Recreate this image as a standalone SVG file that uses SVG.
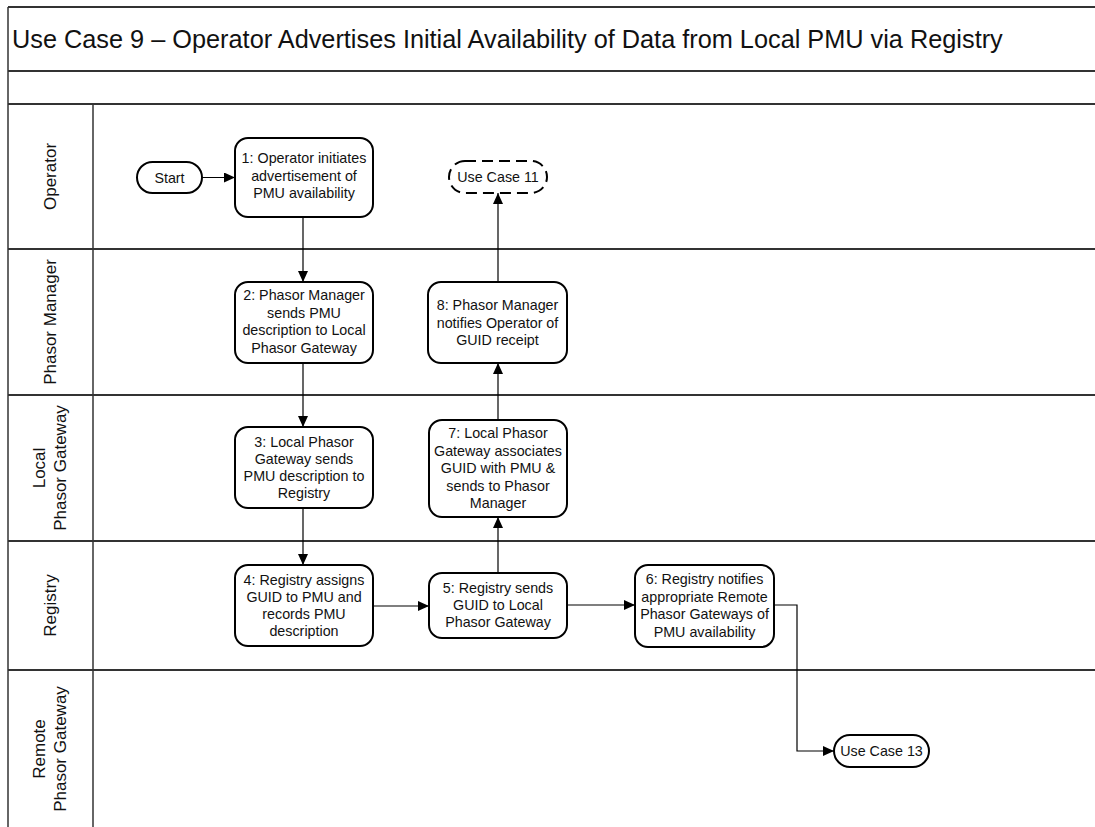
<svg xmlns="http://www.w3.org/2000/svg" width="1095" height="827" viewBox="0 0 1095 827">
  <style>
    .frame { stroke: #333; stroke-width: 2; fill: none; }
    .vline { stroke: #333; stroke-width: 1.5; fill: none; }
    .title { font-family: "Liberation Sans", Arial, sans-serif; font-size: 25.3px; fill: #111; }
    .lane { font-family: "Liberation Sans", Arial, sans-serif; font-size: 17px; fill: #111; text-anchor: middle; }
    .box { fill: #fff; stroke: #000; stroke-width: 2; }
    .dashed { fill: #fff; stroke: #000; stroke-width: 2; stroke-dasharray: 11 6; }
    .t { font-family: "Liberation Sans", Arial, sans-serif; font-size: 14.3px; fill: #111; text-anchor: middle; }
    .conn { stroke: #000; stroke-width: 1.2; fill: none; marker-end: url(#arrow); }
  </style>
  <defs>
    <marker id="arrow" markerUnits="userSpaceOnUse" markerWidth="12" markerHeight="10" refX="11" refY="5" orient="auto">
      <path d="M0,0 L11,5 L0,10 Z" fill="#000"/>
    </marker>
  </defs>
  <rect width="1095" height="827" fill="#fff"/>

  <g id="pool">
    <line class="frame" x1="8" y1="7" x2="1095" y2="7"/>
    <line class="vline" x1="8" y1="7" x2="8" y2="827"/>
    <line class="frame" x1="8" y1="71" x2="1095" y2="71"/>
    <line class="frame" x1="8" y1="104" x2="1095" y2="104"/>
    <line class="vline" x1="93" y1="104" x2="93" y2="827"/>
    <line class="frame" x1="8" y1="249" x2="1095" y2="249"/>
    <line class="frame" x1="8" y1="395" x2="1095" y2="395"/>
    <line class="frame" x1="8" y1="541" x2="1095" y2="541"/>
    <line class="frame" x1="8" y1="670" x2="1095" y2="670"/>
    <text class="title" x="12" y="48">Use Case 9 – Operator Advertises Initial Availability of Data from Local PMU via Registry</text>
  </g>

  <g id="lane-labels">
    <text class="lane" transform="translate(56,176.5) rotate(-90)">Operator</text>
    <text class="lane" transform="translate(56,322) rotate(-90)">Phasor Manager</text>
    <text class="lane" transform="translate(45,468) rotate(-90)">Local</text>
    <text class="lane" transform="translate(66,468) rotate(-90)">Phasor Gateway</text>
    <text class="lane" transform="translate(56,605.5) rotate(-90)">Registry</text>
    <text class="lane" transform="translate(45,749) rotate(-90)">Remote</text>
    <text class="lane" transform="translate(66,749) rotate(-90)">Phasor Gateway</text>
  </g>

  <g id="connectors">
    <line class="conn" x1="202" y1="177.5" x2="235" y2="177.5"/>
    <line class="conn" x1="303" y1="217" x2="303" y2="282"/>
    <line class="conn" x1="303" y1="363" x2="303" y2="427"/>
    <line class="conn" x1="303" y1="508" x2="303" y2="565"/>
    <line class="conn" x1="373" y1="606" x2="429" y2="606"/>
    <line class="conn" x1="498" y1="573" x2="498" y2="517"/>
    <line class="conn" x1="498" y1="420" x2="498" y2="363"/>
    <line class="conn" x1="498" y1="282" x2="498" y2="193"/>
    <line class="conn" x1="567" y1="605" x2="635" y2="605"/>
    <polyline class="conn" points="774,605 797,605 797,751 834,751"/>
  </g>

  <g id="start">
    <rect class="box" x="137" y="162" width="65" height="31" rx="15.5"/>
    <text class="t" x="169.5" y="182.5">Start</text>
  </g>

  <g id="step1">
    <rect class="box" x="235" y="138" width="138" height="79" rx="13"/>
    <text class="t" x="304" y="163"><tspan x="304">1: Operator initiates</tspan><tspan x="304" dy="17.5">advertisement of</tspan><tspan x="304" dy="17.5">PMU availability</tspan></text>
  </g>

  <g id="uc11">
    <rect class="dashed" x="449" y="161" width="98" height="32" rx="16"/>
    <text class="t" x="498" y="182">Use Case 11</text>
  </g>

  <g id="step2">
    <rect class="box" x="235" y="282" width="138" height="81" rx="13"/>
    <text class="t" x="304" y="300"><tspan x="304">2: Phasor Manager</tspan><tspan x="304" dy="17.5">sends PMU</tspan><tspan x="304" dy="17.5">description to Local</tspan><tspan x="304" dy="17.5">Phasor Gateway</tspan></text>
  </g>

  <g id="step8">
    <rect class="box" x="428" y="282" width="139" height="81" rx="13"/>
    <text class="t" x="497.5" y="310"><tspan x="497.5">8: Phasor Manager</tspan><tspan x="497.5" dy="17.5">notifies Operator of</tspan><tspan x="497.5" dy="17.5">GUID receipt</tspan></text>
  </g>

  <g id="step3">
    <rect class="box" x="235" y="427" width="138" height="81" rx="13"/>
    <text class="t" x="304" y="447"><tspan x="304">3: Local Phasor</tspan><tspan x="304" dy="17">Gateway sends</tspan><tspan x="304" dy="17">PMU description to</tspan><tspan x="304" dy="17">Registry</tspan></text>
  </g>

  <g id="step7">
    <rect class="box" x="429" y="420" width="138" height="97" rx="13"/>
    <text class="t" x="498" y="438"><tspan x="498">7: Local Phasor</tspan><tspan x="498" dy="17.5">Gateway associates</tspan><tspan x="498" dy="17.5">GUID with PMU &amp;</tspan><tspan x="498" dy="17.5">sends to Phasor</tspan><tspan x="498" dy="17.5">Manager</tspan></text>
  </g>

  <g id="step4">
    <rect class="box" x="235" y="565" width="138" height="81" rx="13"/>
    <text class="t" x="304" y="585"><tspan x="304">4: Registry assigns</tspan><tspan x="304" dy="17">GUID to PMU and</tspan><tspan x="304" dy="17">records PMU</tspan><tspan x="304" dy="17">description</tspan></text>
  </g>

  <g id="step5">
    <rect class="box" x="429" y="573" width="138" height="65" rx="13"/>
    <text class="t" x="498" y="593"><tspan x="498">5: Registry sends</tspan><tspan x="498" dy="17">GUID to Local</tspan><tspan x="498" dy="17">Phasor Gateway</tspan></text>
  </g>

  <g id="step6">
    <rect class="box" x="635" y="565" width="139" height="82" rx="13"/>
    <text class="t" x="704.5" y="584"><tspan x="704.5">6: Registry notifies</tspan><tspan x="704.5" dy="17.5">appropriate Remote</tspan><tspan x="704.5" dy="17.5">Phasor Gateways of</tspan><tspan x="704.5" dy="17.5">PMU availability</tspan></text>
  </g>

  <g id="uc13">
    <rect class="box" x="834" y="735" width="95" height="32" rx="16"/>
    <text class="t" x="881.5" y="756">Use Case 13</text>
  </g>
</svg>
